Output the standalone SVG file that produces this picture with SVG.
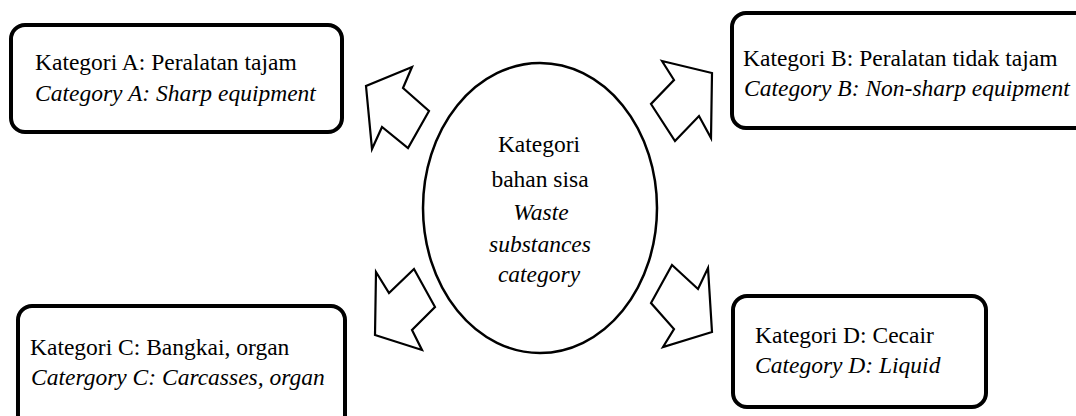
<svg xmlns="http://www.w3.org/2000/svg" width="1076" height="416" viewBox="0 0 1076 416">
<style>
.box{fill:#fff;stroke:#000;stroke-width:4}
.arr{fill:#fff;stroke:#000;stroke-width:2.2;stroke-linejoin:miter}
.t{font-family:"Liberation Serif","Times New Roman",serif;font-size:23.5px;fill:#000}
.i{font-style:italic}
.c{text-anchor:middle}
</style>
<rect width="1076" height="416" fill="#fff"/>
<g id="nodeA">
<rect class="box" x="11" y="25" width="331" height="107" rx="14"/>
<text class="t" x="35" y="70">Kategori A: Peralatan tajam</text>
<text class="t i" x="35" y="101">Category A: Sharp equipment</text>
</g>
<g id="nodeB">
<rect class="box" x="732" y="13" width="370" height="115" rx="14"/>
<text class="t" x="743" y="66">Kategori B: Peralatan tidak tajam</text>
<text class="t i" x="744" y="96">Category B: Non-sharp equipment</text>
</g>
<g id="nodeC">
<rect class="box" x="18" y="306" width="327" height="140" rx="14"/>
<text class="t" x="30" y="355">Kategori C: Bangkai, organ</text>
<text class="t i" x="31" y="385">Catergory C: Carcasses, organ</text>
</g>
<g id="nodeD">
<rect class="box" x="733" y="296" width="253" height="111" rx="14"/>
<text class="t" x="755" y="343">Kategori D: Cecair</text>
<text class="t i" x="755" y="373">Category D: Liquid</text>
</g>
<g id="center">
<ellipse cx="540" cy="208" rx="117" ry="145" fill="#fff" stroke="#000" stroke-width="2.5"/>
<text class="t c" x="539" y="152">Kategori</text>
<text class="t c" x="540" y="187">bahan sisa</text>
<text class="t c i" x="541" y="220">Waste</text>
<text class="t c i" x="540" y="252">substances</text>
<text class="t c i" x="539" y="282">category</text>
</g>
<g id="connectors">
<polygon class="arr" points="412,67 403,88 429,111 408,148 382,127 372,149 366,86"/>
<polygon class="arr" points="662,61 712,73 711,138 699,116 675,141 651,104 674,80"/>
<polygon class="arr" points="376,272 389,293 414,269 435,307 412,330 422,350 375,335"/>
<polygon class="arr" points="672,265 698,289 708,268 712,332 663,347 674,329 651,303"/>
</g>
</svg>
